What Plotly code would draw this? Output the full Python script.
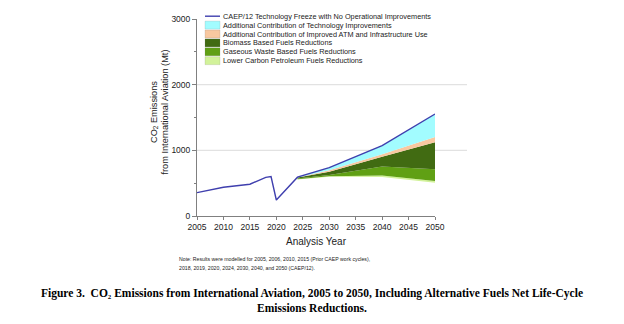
import plotly.graph_objects as go

# ---------------- data ----------------
hist_years = [2005, 2006, 2010, 2015, 2018, 2019, 2020, 2024, 2030, 2040, 2050]
freeze = [356, 372, 438, 484, 588, 600, 244, 591, 737, 1073, 1553]

fut_years = [2024, 2030, 2040, 2050]
residual = [555, 598, 595, 508]
lower_carbon = [5, 7, 20, 26]
gaseous_waste = [10, 20, 138, 179]
biomass = [15, 50, 148, 412]
atm = [3, 20, 41, 77]
technology = [3, 42, 131, 351]

x_ticks = [2005, 2010, 2015, 2020, 2025, 2030, 2035, 2040, 2045, 2050]
y_ticks = [0, 1000, 2000, 3000]
grid_vals = [1000, 2000]

legend_names = [
    "CAEP/12 Technology Freeze with No Operational Improvements",
    "Additional Contribution of Technology Improvements",
    "Additional Contribution of Improved ATM and Infrastructure Use",
    "Biomass Based Fuels Reductions",
    "Gaseous Waste Based Fuels Reductions",
    "Lower Carbon Petroleum Fuels Reductions",
]

# ---------------- style ----------------
C_LINE = "#3F3FAE"
C_TECH = "#A2FCFF"
C_ATM = "#F8C8A0"
C_BIO = "#416B12"
C_GAS = "#60A014"
C_LOW = "#D2F29A"
FONT = "Liberation Sans, Arial, sans-serif"
SERIF = "Liberation Serif, Times New Roman, serif"

W_FIG, H_FIG = 624, 324
L, R, T, B = 197, 189, 19, 108
PW = W_FIG - L - R
PH = H_FIG - T - B


def px(xp):
    return (xp - L) / PW


def py(yp):
    return (T + PH - yp) / PH


fig = go.Figure()

bands = [
    (residual, "rgba(0,0,0,0)", None),
    (lower_carbon, C_LOW, legend_names[5]),
    (gaseous_waste, C_GAS, legend_names[4]),
    (biomass, C_BIO, legend_names[3]),
    (atm, C_ATM, legend_names[2]),
    (technology, C_TECH, legend_names[1]),
]
for vals, col, name in bands:
    fig.add_trace(go.Scatter(
        x=fut_years, y=vals, stackgroup="fut", mode="lines",
        line=dict(width=0, color=col), fillcolor=col,
        name=name or "residual", showlegend=False, hoverinfo="skip",
    ))

fig.add_trace(go.Scatter(
    x=hist_years, y=freeze, mode="lines",
    line=dict(color=C_LINE, width=1.4), name=legend_names[0], showlegend=False,
))

# gridlines (extend slightly past the x axis as in the reference)
shapes = []
for g in grid_vals:
    shapes.append(dict(type="line", xref="paper", yref="y", x0=0, x1=px(467),
                       y0=g, y1=g, line=dict(color="#E2E2E2", width=1.2), layer="below"))

# custom compact legend
annotations = []
sw_x0, sw_x1 = px(205), px(220)
swatch_cols = [None, C_TECH, C_ATM, C_BIO, C_GAS, C_LOW]
for i, name in enumerate(legend_names):
    yc = 16.2 + 8.9 * i
    if i == 0:
        shapes.append(dict(type="line", xref="paper", yref="paper", x0=sw_x0, x1=sw_x1,
                           y0=py(yc), y1=py(yc), line=dict(color=C_LINE, width=1.4)))
    else:
        shapes.append(dict(type="rect", xref="paper", yref="paper", x0=sw_x0, x1=sw_x1,
                           y0=py(yc + 4), y1=py(yc - 4), fillcolor=swatch_cols[i],
                           line=dict(color="rgba(120,120,120,0.35)", width=0.5)))
    annotations.append(dict(xref="paper", yref="paper", x=px(221), y=py(yc),
                            xanchor="left", yanchor="middle", showarrow=False,
                            text=name, font=dict(family=FONT, size=7.3, color="#222")))

# y-axis title
annotations.append(dict(xref="paper", yref="paper", x=px(159.5), y=py(112),
                        xanchor="center", yanchor="middle", showarrow=False, textangle=-90,
                        text="CO<sub>2</sub> Emissions<br>from International Aviation (Mt)",
                        font=dict(family=FONT, size=9.2, color="#222")))

# note
annotations.append(dict(xref="paper", yref="paper", x=px(177), y=py(259.3),
                        xanchor="left", yanchor="middle", showarrow=False,
                        text="Note: Results were modelled for 2005, 2006, 2010, 2015 (Prior CAEP work cycles),",
                        font=dict(family=FONT, size=5.2, color="#222")))
annotations.append(dict(xref="paper", yref="paper", x=px(177), y=py(267.7),
                        xanchor="left", yanchor="middle", showarrow=False,
                        text="2018, 2019, 2020, 2024, 2030, 2040, and 2050 (CAEP/12).",
                        font=dict(family=FONT, size=5.2, color="#222")))

# caption
annotations.append(dict(xref="paper", yref="paper", x=px(312), y=py(293),
                        xanchor="center", yanchor="middle", showarrow=False,
                        text="<b>Figure 3.\u00a0 CO\u2082 Emissions from International Aviation, 2005 to 2050, Including Alternative Fuels Net Life-Cycle</b>",
                        font=dict(family=SERIF, size=11.5, color="#000")))
annotations.append(dict(xref="paper", yref="paper", x=px(312), y=py(308),
                        xanchor="center", yanchor="middle", showarrow=False,
                        text="<b>Emissions Reductions.</b>",
                        font=dict(family=SERIF, size=11.5, color="#000")))

fig.update_layout(
    width=W_FIG, height=H_FIG,
    margin=dict(l=L, r=R, t=T, b=B, pad=0),
    paper_bgcolor="white", plot_bgcolor="white",
    showlegend=False,
    shapes=shapes, annotations=annotations,
    font=dict(family=FONT, size=8.5, color="#222"),
    xaxis=dict(range=[2005, 2050], tickvals=x_ticks, ticks="outside", ticklen=3,
               tickcolor="#808080", showline=True, linecolor="#808080", linewidth=1,
               showgrid=False, zeroline=False, tickfont=dict(size=8.5),
               title=dict(text="Analysis Year", font=dict(size=10, color="#222"), standoff=6)),
    yaxis=dict(range=[0, 3000], tickvals=y_ticks, ticks="outside", ticklen=4,
               tickcolor="#808080", showline=True, linecolor="#808080", linewidth=1,
               showgrid=False, zeroline=False, tickfont=dict(size=8.5),
               minor=dict(dtick=500, ticks="outside", ticklen=2, tickcolor="#808080")),
)

fig.write_html("out.html")
